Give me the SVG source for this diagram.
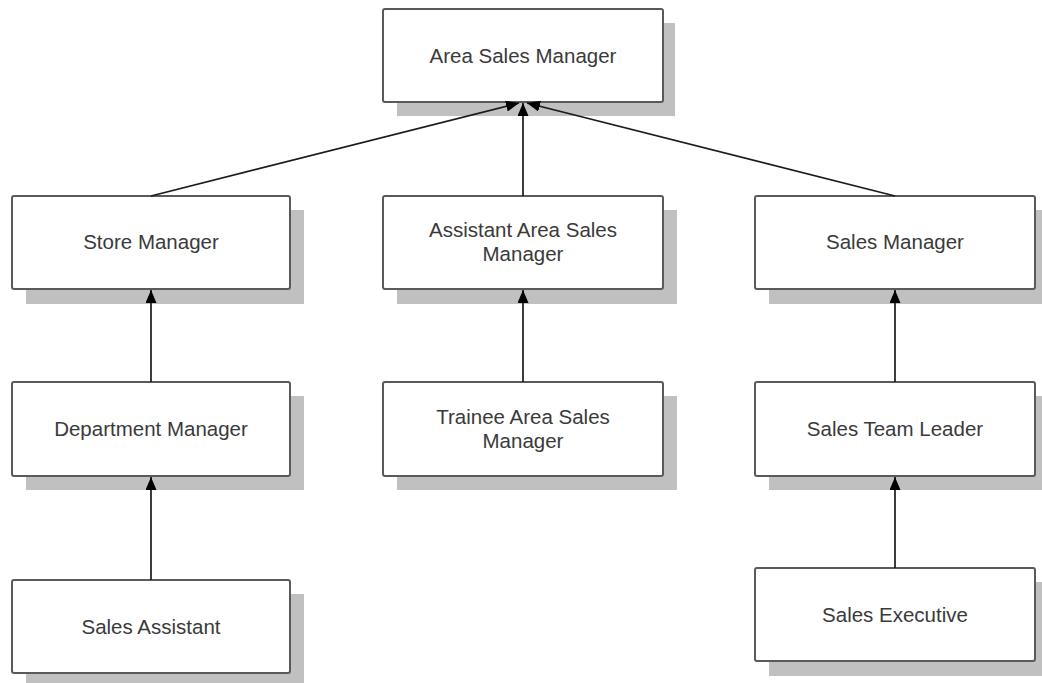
<svg xmlns="http://www.w3.org/2000/svg" width="1042" height="683" viewBox="0 0 1042 683">
<style>
.sh{fill:#c0c0c0;stroke:none}
.bx{fill:#fff;stroke:#5a5a5a;stroke-width:2}
.tx{font-family:"Liberation Sans",Arial,sans-serif;font-size:20.5px;fill:#3a3a3a;text-anchor:middle}
.cn{stroke:#1a1a1a;stroke-width:1.7;fill:none;marker-end:url(#ah)}
</style>
<defs>
<marker id="ah" viewBox="0 0 13 11" refX="13" refY="5.5" markerWidth="13" markerHeight="11" markerUnits="userSpaceOnUse" orient="auto">
<path d="M0,0 L13,5.5 L0,11 z" fill="#000"/>
</marker>
</defs>
<rect width="1042" height="683" fill="#fff"/>
<g id="n-area-sales-manager">
<rect class="sh" x="397" y="23" width="278" height="93"/>
<rect class="bx" x="383" y="9" width="280" height="93" rx="2"/>
<text class="tx" x="523" y="63">Area Sales Manager</text>
</g>
<g id="n-store-manager">
<rect class="sh" x="26" y="210" width="278" height="94"/>
<rect class="bx" x="12" y="196" width="278" height="93" rx="2"/>
<text class="tx" x="151" y="249">Store Manager</text>
</g>
<g id="n-assistant-area-sales-manager">
<rect class="sh" x="397" y="210" width="280" height="94"/>
<rect class="bx" x="383" y="196" width="280" height="93" rx="2"/>
<text class="tx" x="523" y="237">Assistant Area Sales</text>
<text class="tx" x="523" y="261">Manager</text>
</g>
<g id="n-sales-manager">
<rect class="sh" x="769" y="210" width="273" height="94"/>
<rect class="bx" x="755" y="196" width="280" height="93" rx="2"/>
<text class="tx" x="895" y="249">Sales Manager</text>
</g>
<g id="n-department-manager">
<rect class="sh" x="26" y="396" width="278" height="94"/>
<rect class="bx" x="12" y="382" width="278" height="94" rx="2"/>
<text class="tx" x="151" y="436">Department Manager</text>
</g>
<g id="n-trainee-area-sales-manager">
<rect class="sh" x="397" y="396" width="280" height="94"/>
<rect class="bx" x="383" y="382" width="280" height="94" rx="2"/>
<text class="tx" x="523" y="424">Trainee Area Sales</text>
<text class="tx" x="523" y="448">Manager</text>
</g>
<g id="n-sales-team-leader">
<rect class="sh" x="769" y="396" width="273" height="94"/>
<rect class="bx" x="755" y="382" width="280" height="94" rx="2"/>
<text class="tx" x="895" y="436">Sales Team Leader</text>
</g>
<g id="n-sales-assistant">
<rect class="sh" x="26" y="594" width="278" height="89"/>
<rect class="bx" x="12" y="580" width="278" height="93" rx="2"/>
<text class="tx" x="151" y="634">Sales Assistant</text>
</g>
<g id="n-sales-executive">
<rect class="sh" x="769" y="582" width="273" height="94"/>
<rect class="bx" x="755" y="568" width="280" height="93" rx="2"/>
<text class="tx" x="895" y="622">Sales Executive</text>
</g>
<g id="connectors">
<line class="cn" x1="151" y1="196" x2="519" y2="103"/>
<line class="cn" x1="523" y1="196" x2="523" y2="103"/>
<line class="cn" x1="895" y1="196" x2="527" y2="103"/>
<line class="cn" x1="151" y1="382" x2="151" y2="290"/>
<line class="cn" x1="523" y1="382" x2="523" y2="290"/>
<line class="cn" x1="895" y1="382" x2="895" y2="290"/>
<line class="cn" x1="151" y1="580" x2="151" y2="477"/>
<line class="cn" x1="895" y1="568" x2="895" y2="477"/>
</g>
</svg>
